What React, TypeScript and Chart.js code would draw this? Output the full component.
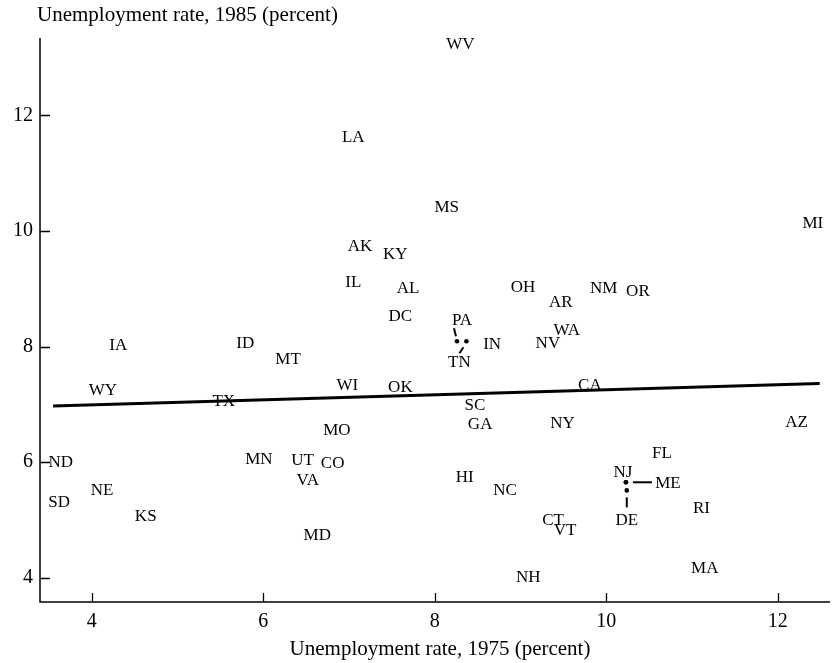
import React, { useEffect, useRef } from "react";
import { Chart, registerables } from "chart.js";

Chart.register(...registerables);

// ---------- data ----------
const states = [
  "WV", "LA", "MS", "MI", "AK", "KY", "IL", "AL", "OH", "AR", "NM", "OR", "DC",
  "IN", "WA", "NV", "IA", "ID", "MT", "WY", "TX", "WI", "OK", "CA", "SC", "GA",
  "NY", "AZ", "MO", "ND", "MN", "UT", "CO", "VA", "FL", "HI", "NC", "CT", "VT",
  "MD", "NH", "NE", "SD", "KS", "RI", "MA",
];
const rate1975 = [
  8.3, 7.05, 8.14, 12.41, 7.13, 7.54, 7.05, 7.69, 9.03, 9.47, 9.97, 10.37, 7.6,
  8.67, 9.54, 9.32, 4.31, 5.79, 6.29, 4.13, 5.54, 6.98, 7.6, 9.81, 8.47, 8.53,
  9.49, 12.22, 6.86, 3.64, 5.95, 6.46, 6.81, 6.52, 10.65, 8.35, 8.82, 9.38, 9.52,
  6.63, 9.09, 4.12, 3.62, 4.63, 11.11, 11.15,
];
const rate1985 = [
  13.22, 11.62, 10.41, 10.13, 9.73, 9.59, 9.11, 9.01, 9.02, 8.76, 9.01, 8.95, 8.52,
  8.04, 8.28, 8.06, 8.02, 8.06, 7.78, 7.24, 7.05, 7.33, 7.29, 7.33, 6.98, 6.65,
  6.67, 6.69, 6.55, 5.99, 6.04, 6.03, 5.98, 5.68, 6.15, 5.74, 5.51, 4.99, 4.82,
  4.73, 4.0, 5.51, 5.3, 5.06, 5.2, 4.16,
];

// states drawn as a dot with an offset label
const calloutStates = ["PA", "TN", "NJ", "ME", "DE"];
const callout1975 = [8.26, 8.37, 10.23, 10.23, 10.24];
const callout1985 = [8.09, 8.09, 5.65, 5.65, 5.51];

// fitted regression line end points
const fit1975 = [3.55, 12.49];
const fit1985 = [6.97, 7.36];

const xTicks = [4, 6, 8, 10, 12];
const yTicks = [4, 6, 8, 10, 12];

const xTitle = "Unemployment rate, 1975 (percent)";
const yTitle = "Unemployment rate, 1985 (percent)";

// ---------- style ----------
const SERIF = "'Liberation Serif', 'Times New Roman', serif";
const calloutStyle: Record<string, { dx: number; dy: number; line: number[] | null }> = {
  PA: { dx: 5, dy: -21, line: [-3, -13, -1, -5] },
  TN: { dx: -7, dy: 21, line: [-3, 6, -7, 12] },
  NJ: { dx: -3, dy: -10, line: null },
  ME: { dx: 42, dy: 1, line: [7, 0, 26, 0] },
  DE: { dx: 0, dy: 30, line: [0, 7, 0, 17] },
};

const annotate = {
  id: "annotate",
  afterDatasetsDraw(chart: any) {
    const ctx = chart.ctx as CanvasRenderingContext2D;
    const xs = chart.scales.x;
    const ys = chart.scales.y;
    const area = chart.chartArea;
    ctx.save();
    ctx.strokeStyle = "#000";
    ctx.fillStyle = "#000";

    // axes
    ctx.lineWidth = 1.5;
    ctx.beginPath();
    ctx.moveTo(area.left, area.top);
    ctx.lineTo(area.left, area.bottom);
    ctx.lineTo(area.right, area.bottom);
    ctx.stroke();

    // inward tick marks
    ctx.lineWidth = 1.3;
    ctx.beginPath();
    xTicks.forEach((v) => {
      const px = Math.round(xs.getPixelForValue(v)) + 0.5;
      ctx.moveTo(px, area.bottom);
      ctx.lineTo(px, area.bottom - 9);
    });
    yTicks.forEach((v) => {
      const py = Math.round(ys.getPixelForValue(v)) + 0.5;
      ctx.moveTo(area.left, py);
      ctx.lineTo(area.left + 10, py);
    });
    ctx.stroke();

    // state labels
    ctx.font = `17px ${SERIF}`;
    ctx.textAlign = "center";
    ctx.textBaseline = "middle";
    const meta = chart.getDatasetMeta(0);
    meta.data.forEach((pt: any, i: number) => {
      ctx.fillText(states[i], pt.x, pt.y);
    });

    // callouts
    const cmeta = chart.getDatasetMeta(1);
    cmeta.data.forEach((pt: any, i: number) => {
      const name = calloutStates[i];
      const st = calloutStyle[name];
      if (st.line) {
        ctx.lineWidth = 2;
        ctx.beginPath();
        ctx.moveTo(pt.x + st.line[0], pt.y + st.line[1]);
        ctx.lineTo(pt.x + st.line[2], pt.y + st.line[3]);
        ctx.stroke();
      }
      ctx.fillText(name, pt.x + st.dx, pt.y + st.dy);
    });

    // titles
    ctx.font = `21px ${SERIF}`;
    ctx.textAlign = "left";
    ctx.textBaseline = "middle";
    ctx.fillText(yTitle, area.left - 3, 15);
    ctx.textAlign = "center";
    ctx.fillText(xTitle, (area.left + area.right) / 2 + 5, 649);
    ctx.restore();
  },
};

export default function App() {
  const ref = useRef<HTMLCanvasElement | null>(null);

  useEffect(() => {
    if (!ref.current) return;
    const chart = new Chart(ref.current, {
      type: "scatter",
      data: {
        datasets: [
          {
            label: "states",
            data: states.map((_, i) => ({ x: rate1975[i], y: rate1985[i] })),
            pointRadius: 0,
            pointHoverRadius: 0,
            showLine: false,
          },
          {
            label: "callouts",
            data: calloutStates.map((_, i) => ({ x: callout1975[i], y: callout1985[i] })),
            pointRadius: 2.3,
            pointBackgroundColor: "#000",
            pointBorderWidth: 0,
            showLine: false,
          },
          {
            type: "line",
            label: "fit",
            data: fit1975.map((x, i) => ({ x, y: fit1985[i] })),
            borderColor: "#000",
            borderWidth: 3,
            pointRadius: 0,
            showLine: true,
            fill: false,
          } as any,
        ],
      },
      options: {
        animation: false,
        responsive: false,
        devicePixelRatio: 1,
        layout: { padding: { top: 38, right: 7, left: 0, bottom: 0 } },
        plugins: {
          legend: { display: false },
          tooltip: { enabled: false },
          title: { display: false },
        },
        events: [],
        scales: {
          x: {
            type: "linear",
            min: 3.397,
            max: 12.61,
            grid: { display: false, drawTicks: false },
            border: { display: false },
            afterBuildTicks: (s: any) => {
              s.ticks = xTicks.map((v) => ({ value: v }));
            },
            afterFit: (s: any) => {
              s.height = 61;
            },
            ticks: {
              color: "#000",
              padding: 8,
              font: { family: SERIF, size: 20 },
              callback: (v: any) => String(v),
            },
          },
          y: {
            type: "linear",
            min: 3.578,
            max: 13.34,
            grid: { display: false, drawTicks: false },
            border: { display: false },
            afterBuildTicks: (s: any) => {
              s.ticks = yTicks.map((v) => ({ value: v }));
            },
            afterFit: (s: any) => {
              s.width = 40;
            },
            ticks: {
              color: "#000",
              padding: 7,
              font: { family: SERIF, size: 20 },
              callback: (v: any) => String(v),
            },
          },
        },
      },
      plugins: [annotate],
    });
    return () => chart.destroy();
  }, []);

  return (
    <div style={{ position: "fixed", left: 0, top: 0, width: 837, height: 663, background: "#fff" }}>
      <canvas ref={ref} width={837} height={663} style={{ width: 837, height: 663 }} />
    </div>
  );
}
